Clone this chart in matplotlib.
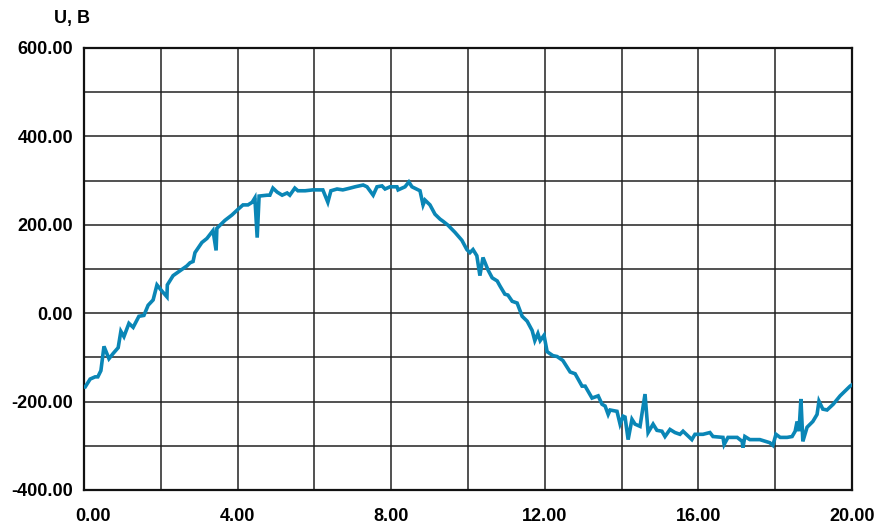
import matplotlib
matplotlib.use("Agg")
import matplotlib.pyplot as plt
import matplotlib.transforms as mtransforms
import numpy as np

# time axis values
t = [0.00, 0.03, 0.16, 0.29, 0.36, 0.44, 0.52, 0.65, 0.76, 0.89, 0.96, 1.04, 1.17, 1.28, 1.43,
     1.56, 1.67, 1.80, 1.90, 2.03, 2.16, 2.17, 2.32, 2.50, 2.68, 2.76, 2.84, 2.89, 3.07, 3.20,
     3.36, 3.44, 3.46, 3.67, 3.85, 4.01, 4.14, 4.27, 4.38, 4.45, 4.51, 4.56, 4.77, 4.84, 4.92,
     5.03, 5.16, 5.29, 5.36, 5.49, 5.57, 5.76, 5.96, 6.22, 6.35, 6.43, 6.59, 6.74, 6.93, 7.06,
     7.27, 7.37, 7.53, 7.63, 7.76, 7.84, 7.97, 8.15, 8.18, 8.36, 8.46, 8.54, 8.75, 8.83, 8.88,
     9.01, 9.14, 9.27, 9.35, 9.48, 9.66, 9.84, 9.97, 10.05, 10.13, 10.23, 10.31, 10.39, 10.52,
     10.63, 10.76, 10.83, 10.96, 11.04, 11.15, 11.28, 11.41, 11.54, 11.67, 11.74, 11.82, 11.88,
     11.98, 12.06, 12.21, 12.32, 12.47, 12.66, 12.79, 12.97, 13.05, 13.23, 13.39, 13.49, 13.57,
     13.65, 13.70, 13.88, 13.96, 14.04, 14.09, 14.17, 14.27, 14.35, 14.48, 14.61, 14.69, 14.82,
     14.92, 15.05, 15.13, 15.26, 15.39, 15.52, 15.60, 15.83, 15.91, 16.12, 16.30, 16.38, 16.64,
     16.67, 16.77, 17.01, 17.14, 17.16, 17.21, 17.34, 17.47, 17.60, 17.86, 17.94, 18.02, 18.13,
     18.31, 18.44, 18.52, 18.57, 18.62, 18.67, 18.72, 18.83, 18.98, 19.09, 19.14, 19.24, 19.35,
     19.51, 19.69, 19.95, 20.00]

# voltage values
u = [-167, -167, -149, -144, -144, -130, -75, -103, -91, -78, -41, -53, -23, -32, -7,
     -5, 18, 30, 64, 50, 37, 64, 85, 96, 107, 114, 117, 137, 160, 169,
     187, 142, 192, 210, 222, 235, 245, 245, 251, 261, 171, 265, 267, 267, 283,
     274, 267, 272, 267, 283, 277, 277, 279, 279, 251, 277, 281, 279, 283, 286,
     290, 286, 267, 286, 288, 281, 286, 286, 279, 286, 297, 286, 277, 245, 256,
     245, 224, 213, 208, 199, 183, 165, 144, 137, 144, 130, 85, 126, 98,
     80, 73, 62, 43, 41, 27, 23, -7, -18, -39, -62, -46, -62,
     -50, -87, -96, -98, -107, -133, -137, -165, -165, -192, -187, -206, -210,
     -229, -219, -222, -251, -233, -235, -286, -240, -251, -256, -183, -270, -251,
     -265, -267, -279, -263, -270, -274, -267, -286, -274, -274, -270, -279, -281,
     -297, -281, -281, -290, -304, -279, -286, -286, -286, -293, -299, -274, -281,
     -281, -279, -267, -245, -267, -194, -290, -258, -245, -229, -199, -217, -219,
     -206, -187, -165, -162]

x_ticks = [0, 4, 8, 12, 16, 20]
y_ticks = [-400, -200, 0, 200, 400, 600]
y_label = "U, B"

plt.rcParams['font.family'] = ['Liberation Sans', 'DejaVu Sans']

fig = plt.figure(figsize=(8.76, 5.27), dpi=100)
ax = fig.add_axes([84/876, 1-490/527, (852-84)/876, (490-48)/527])

ax.plot(t, u, color='#0a86b6', linewidth=2.6, solid_joinstyle='miter', zorder=3)

ax.set_xlim(0, 20)
ax.set_ylim(-400, 600)
ax.set_xticks(np.arange(0, 21, 2), minor=False)
ax.set_yticks(np.arange(-400, 601, 100))
ax.grid(True, color='#222222', linewidth=1.1, zorder=1)
ax.set_axisbelow(True)

ax.set_xticklabels([f"{v:.2f}" if v in x_ticks else "" for v in np.arange(0, 21, 2)],
                   fontweight='bold', fontsize=13)
ax.set_yticklabels([f"{v:.2f}" if v in y_ticks else "" for v in np.arange(-400, 601, 100)],
                   fontweight='bold', fontsize=13)
ax.tick_params(axis='both', length=0)
ax.tick_params(axis='x', pad=13)
ax.tick_params(axis='y', pad=8)

# shift first x label right a bit as in the reference
first = ax.get_xticklabels()[0]
first.set_transform(first.get_transform() + mtransforms.ScaledTranslation(9/100, 0, fig.dpi_scale_trans))

for s in ax.spines.values():
    s.set_linewidth(1.6)
    s.set_color('#111111')

fig.text(72/876, 1-18/527, y_label, fontweight='bold', fontsize=13, ha='center', va='center')

fig.savefig("out.png", dpi=100)
